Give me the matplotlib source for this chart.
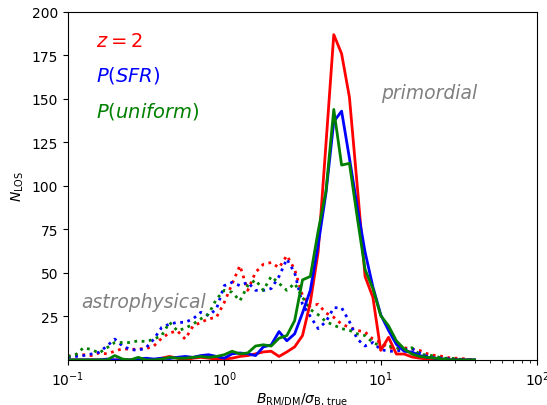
"""Distribution of B_RM/DM / sigma_B,true for primordial vs astrophysical fields (z = 2)."""

import numpy as np
import matplotlib
matplotlib.use("Agg")
import matplotlib.pyplot as plt

# bin positions (log10 of B_RM/DM / sigma_B,true), 0.05 dex bins
log_bins = np.round(np.arange(-1.0, 1.65, 0.05), 2)

# primordial (solid) counts
prim_sfr = [0, 0, 0, 0, 0, 0.5, 0, 0, 0, 0.5, 1, 0.5,
            1, 0.8, 1.5, 2, 1.5, 2.5, 3, 2, 1, 3.5, 4, 3.5, 2.5, 7.5, 8.6, 16.3, 11, 15,
            27, 40, 66, 96, 137, 143, 116, 88, 62, 42, 26, 17, 9, 5, 4.5, 2.5, 1.5, 1,
            0.5, 0, 0, 0, 0]
prim_uniform = [0, 0, 0, 0, 0, 0, 2.5, 0.5, 0, 1.5, 0, 0,
                0.5, 1.5, 1, 1, 1.5, 2, 1.5, 2, 3, 5, 3.5, 4, 8, 8.7, 8, 12.5, 14, 22.6,
                46, 48, 74, 97, 144, 112, 113, 82, 52, 41, 25.5, 19.6, 11, 6.3, 3.4, 2, 1.5, 1,
                0.5, 0, 0, 0, 0]
prim_z2 = [0, 0, 0, 0, 0, 0, 0, 0, 0, 0.5, 0, 0,
           1, 2, 1, 0, 1, 1.5, 1, 0.5, 0.5, 1, 2, 2.5, 3.5, 4.6, 5, 2, 4.6, 7.5,
           14, 33, 62, 124, 187, 176, 151, 100, 48, 36, 5.5, 13, 3.4, 3.4, 1.7, 1, 0.5, 0,
           0, 0, 0, 0, 0]

# astrophysical (dotted) counts
astro_z2 = [2, 3, 3, 2.5, 4, 3.5, 5, 6.5, 6, 6.3, 6.5, 8,
            12.5, 15.5, 16.7, 12, 19.4, 21.6, 23.6, 24.5, 33, 43.7, 54.2, 40, 50.4, 55, 56, 53, 60, 52,
            37, 31, 32, 27, 24.5, 20.6, 18.7, 17, 16, 12, 10, 7, 6.3, 7, 6.3, 5.4, 3.5, 2.5,
            2, 1, 1, 0.5, 0]
astro_sfr = [1.5, 2, 2.5, 3.4, 4.4, 8, 12, 8, 6, 5.5, 7, 12,
             18.7, 20.6, 21.6, 21.6, 23.6, 27.4, 25.5, 29.3, 42.7, 44.6, 42.7, 44.6, 40, 40, 41, 48, 58, 50,
             32, 25, 18, 22, 30, 30, 22, 12, 8, 10, 6, 5, 5, 6, 6.5, 4, 2, 1,
             1, 0.5, 0, 0, 0]
astro_uniform = [2, 3, 7, 6, 4, 7, 10, 10, 10, 11, 10.5, 12,
                 14, 21.6, 16.8, 18.2, 20.6, 23.6, 26.4, 35, 40, 38.9, 34, 42.7, 46, 40, 48, 44, 40, 44,
                 36, 29, 26, 22, 20, 18, 17, 15, 14, 10, 8, 8, 7, 6, 7, 3, 3, 2,
                 1, 1, 0.5, 0, 0]

y_ticks = [25, 50, 75, 100, 125, 150, 175, 200]


def main():
    x = 10 ** log_bins

    fig = plt.figure(figsize=(5.47, 4.06), dpi=100)
    ax = fig.add_axes([0.124, 0.111, 0.858, 0.857])

    ax.plot(x, astro_z2, color="red", linestyle=":", linewidth=2)
    ax.plot(x, astro_sfr, color="blue", linestyle=":", linewidth=2)
    ax.plot(x, astro_uniform, color="green", linestyle=":", linewidth=2)
    ax.plot(x, prim_z2, color="red", linewidth=2)
    ax.plot(x, prim_sfr, color="blue", linewidth=2)
    ax.plot(x, prim_uniform, color="green", linewidth=2)

    ax.set_xscale("log")
    ax.set_xlim(0.1, 100)
    ax.set_ylim(0, 200)
    ax.set_yticks(y_ticks)
    ax.set_xlabel(r"$B_{\rm RM/DM}/\sigma_{\rm B,\,true}$", labelpad=1)
    ax.set_ylabel(r"$N_{\rm LOS}$")

    ax.text(0.06, 0.917, r"$z=2$", color="red", fontsize=14,
            transform=ax.transAxes, va="center")
    ax.text(0.06, 0.819, r"$P(SFR)$", color="blue", fontsize=14,
            transform=ax.transAxes, va="center")
    ax.text(0.06, 0.716, r"$P(uniform)$", color="green", fontsize=14,
            transform=ax.transAxes, va="center")
    ax.text(0.667, 0.77, "primordial", color="grey", fontsize=13.5, style="italic",
            transform=ax.transAxes, va="center")
    ax.text(0.028, 0.167, "astrophysical", color="grey", fontsize=13.5, style="italic",
            transform=ax.transAxes, va="center")

    fig.savefig("out.png", dpi=100)


if __name__ == "__main__":
    main()
